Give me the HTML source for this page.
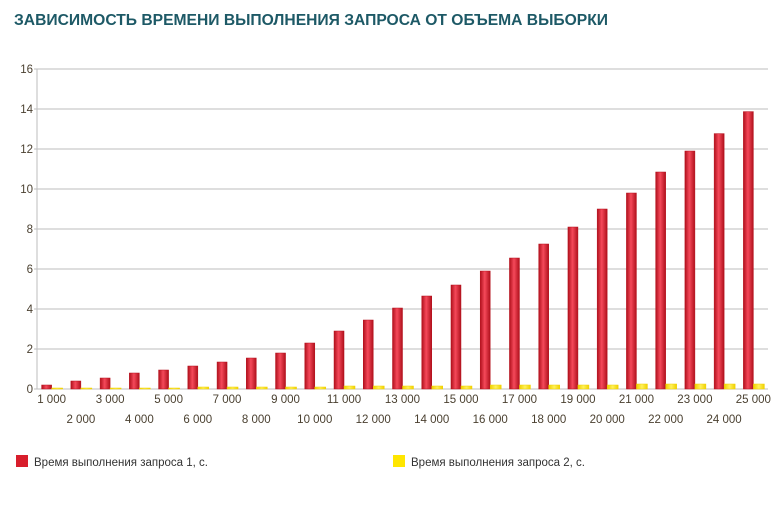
<!DOCTYPE html>
<html><head><meta charset="utf-8"><style>
body{margin:0;background:#fff;width:774px;height:507px;overflow:hidden;font-family:"Liberation Sans",Arial,sans-serif}
</style></head><body>
<svg id="chart" width="774" height="507" xmlns="http://www.w3.org/2000/svg">
<defs>
<linearGradient id="rg" x1="0" x2="1"><stop offset="0" stop-color="#b0101c"/><stop offset="0.45" stop-color="#f5495a"/><stop offset="1" stop-color="#b0101c"/></linearGradient>
<linearGradient id="yg" x1="0" x2="1"><stop offset="0" stop-color="#f0d000"/><stop offset="0.5" stop-color="#fff25a"/><stop offset="1" stop-color="#f0d000"/></linearGradient>
</defs>
<text x="14" y="25" font-size="15.5" font-weight="bold" fill="#1d5966" textLength="594" lengthAdjust="spacingAndGlyphs">ЗАВИСИМОСТЬ ВРЕМЕНИ ВЫПОЛНЕНИЯ ЗАПРОСА ОТ ОБЪЕМА ВЫБОРКИ</text>
<g id="grid"></g><g id="bars"></g><g id="labels"></g>
<rect x="16" y="455" width="12" height="12" fill="#d81e2c"/>
<text x="34" y="466" font-size="11.5" fill="#333">Время выполнения запроса 1, с.</text>
<rect x="393" y="455" width="12" height="12" fill="#ffe600"/>
<text x="411" y="466" font-size="11.5" fill="#333">Время выполнения запроса 2, с.</text>
</svg>
<script>
const categories=["1 000","2 000","3 000","4 000","5 000","6 000","7 000","8 000","9 000","10 000","11 000","12 000","13 000","14 000","15 000","16 000","17 000","18 000","19 000","20 000","21 000","22 000","23 000","24 000","25 000"];
const series1=[0.2,0.4,0.55,0.8,0.95,1.15,1.35,1.55,1.8,2.3,2.9,3.45,4.05,4.65,5.2,5.9,6.55,7.25,8.1,9.0,9.8,10.85,11.9,12.77,13.87];
const series2=[0.05,0.05,0.05,0.05,0.05,0.1,0.1,0.1,0.1,0.1,0.15,0.15,0.15,0.15,0.15,0.2,0.2,0.2,0.2,0.2,0.25,0.25,0.25,0.25,0.25];
const yTicks=[0,2,4,6,8,10,12,14,16];
const NS="http://www.w3.org/2000/svg";
const X0=37,X1=768,Y0=389,Y1=69,YMAX=16;
const bw=(X1-X0)/categories.length;
const y=v=>Y0-(v/YMAX)*(Y0-Y1);
const cx=i=>X0+bw*(i+0.5);
function mk(t,a,p){const e=document.createElementNS(NS,t);for(const k in a)e.setAttribute(k,a[k]);p.appendChild(e);return e;}
const grid=document.getElementById('grid'),bars=document.getElementById('bars'),labels=document.getElementById('labels');
yTicks.forEach(v=>{
 const l=mk('line',{x1:X0-3,x2:X1,y1:y(v),y2:y(v),stroke:'#bdbdbd','stroke-width':1},grid);
 
 
 const t=mk('text',{x:X0-4,y:y(v)+4,'text-anchor':'end','font-size':11.5,fill:'#4a4030'},labels);
 t.textContent=v;
 
 
});
const ax=mk('line',{x1:X0,x2:X0,y1:Y1,y2:Y0,stroke:'#bdbdbd'},grid);


categories.forEach((c,i)=>{
 const r=mk('rect',{x:cx(i)-10,y:y(series1[i]),width:10,height:Y0-y(series1[i]),fill:'url(#rg)',stroke:'#b5101c','stroke-width':0.5},bars);
 
 
 const h2=Math.max(Y0-y(series2[i]),1);
 const r2=mk('rect',{x:cx(i),y:Y0-h2,width:11,height:h2,fill:'url(#yg)',stroke:'#f0d000','stroke-width':0.5},bars);
 
 
 const t=mk('text',{x:cx(i),y:i%2===0?403:423,'text-anchor':'middle','font-size':11.5,fill:'#4a4030'},labels);
 t.textContent=c;
 
 
});
</script>
</body></html>
